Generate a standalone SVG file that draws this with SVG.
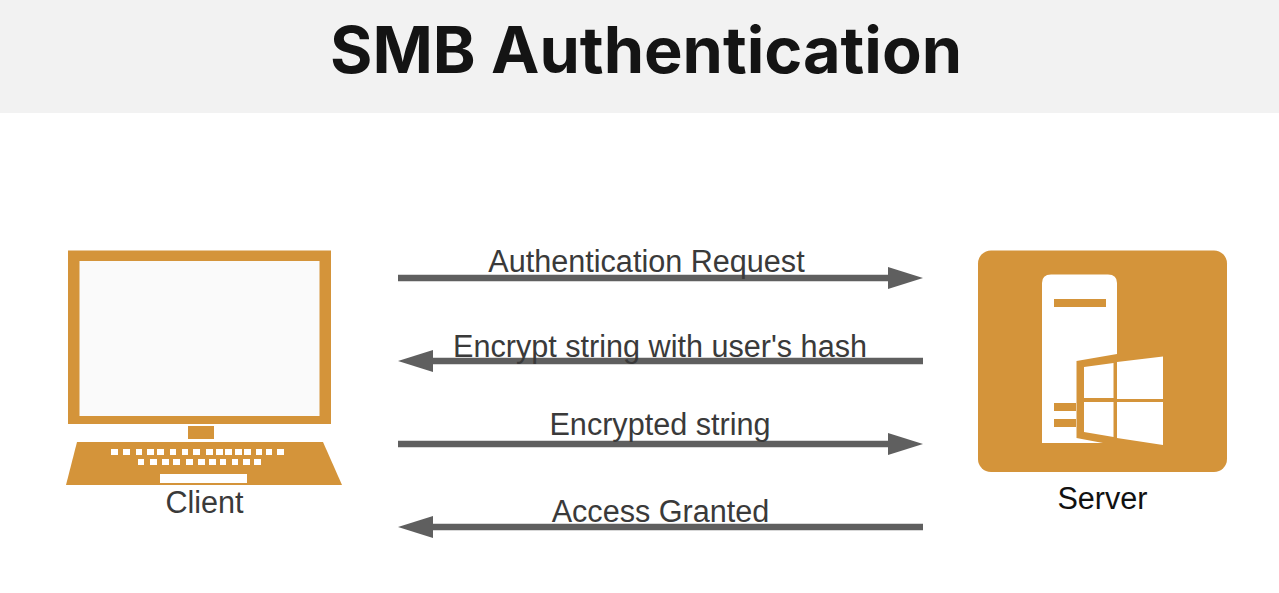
<svg xmlns="http://www.w3.org/2000/svg" width="1279" height="593" viewBox="0 0 1279 593">
<style>
.lbl{font-family:"Liberation Sans",Arial,sans-serif;font-size:30.6px;fill:#3a3a3a;text-anchor:middle}
.conn{stroke:#5f5f5f;stroke-width:6.5;fill:none}
.head{fill:#5f5f5f}
.o{fill:#d4943a}
.w{fill:#fff}
</style>
<rect width="1279" height="593" fill="#fff"/>
<g id="header">
<rect width="1279" height="113" fill="#f2f2f2"/>
<text x="646" y="72.500" font-family="Inter,'Open Sans',sans-serif" font-weight="700" font-size="64" fill="#141414" text-anchor="middle" textLength="632" lengthAdjust="spacingAndGlyphs">SMB Authentication</text>
</g>
<g id="connectors">
<line class="conn" x1="398" y1="278" x2="892" y2="278"/><polygon class="head" points="888,267 923,278 888,289"/>
<line class="conn" x1="923" y1="361" x2="428" y2="361"/><polygon class="head" points="433,350 398,361 433,372"/>
<line class="conn" x1="398" y1="444" x2="892" y2="444"/><polygon class="head" points="888,433 923,444 888,455"/>
<line class="conn" x1="923" y1="527" x2="428" y2="527"/><polygon class="head" points="433,516 398,527 433,538"/>
</g>
<g id="label-request"><text class="lbl" x="646.500" y="271.500">Authentication Request</text></g>
<g id="label-encrypt"><text class="lbl" x="660" y="356.500">Encrypt string with user's hash</text></g>
<g id="label-encrypted"><text class="lbl" x="660" y="434.500">Encrypted string</text></g>
<g id="label-granted"><text class="lbl" x="660.500" y="522">Access Granted</text></g>
<g id="client">
<rect x="68" y="250.500" width="263" height="173.500" class="o"/>
<rect x="79.500" y="261" width="240" height="155" fill="#fafafa"/>
<rect x="188" y="426" width="26" height="13" class="o"/>
<polygon class="o" points="77,442 323,442 342,485 66,485"/>
<g class="w">
<rect x="111" y="449" width="7" height="6"/><rect x="123" y="449" width="7" height="6"/><rect x="136" y="449" width="6" height="6"/><rect x="147" y="449" width="7" height="6"/><rect x="157" y="449" width="7" height="6"/><rect x="170" y="449" width="6" height="6"/><rect x="182" y="449" width="6" height="6"/><rect x="193" y="449" width="7" height="6"/><rect x="206" y="449" width="7" height="6"/><rect x="216" y="449" width="7" height="6"/><rect x="225" y="449" width="7" height="6"/><rect x="235" y="449" width="7" height="6"/><rect x="244" y="449" width="7" height="6"/><rect x="256" y="449" width="6" height="6"/><rect x="266" y="449" width="6" height="6"/><rect x="277" y="449" width="7" height="6"/>
<rect x="138" y="459" width="6" height="6"/><rect x="150" y="459" width="7" height="6"/><rect x="162" y="459" width="7" height="6"/><rect x="173" y="459" width="7" height="6"/><rect x="186" y="459" width="7" height="6"/><rect x="198" y="459" width="7" height="6"/><rect x="209" y="459" width="7" height="6"/><rect x="220" y="459" width="6" height="6"/><rect x="232" y="459" width="6" height="6"/><rect x="243" y="459" width="7" height="6"/><rect x="254" y="459" width="7" height="6"/>
<rect x="160" y="474" width="87" height="9"/>
</g>
<text class="lbl" x="204.500" y="512.500">Client</text>
</g>
<g id="server">
<rect x="978" y="250.500" width="249" height="221.500" rx="13" class="o"/>
<path class="w" d="M1042,443 V283 Q1042,274.500 1051,274.500 H1108 Q1117,274.500 1117,283 V354 L1076.500,361 V438 L1103,443 Z"/>
<rect x="1054" y="299" width="52" height="8" class="o"/>
<rect x="1054" y="403" width="22" height="8" class="o"/>
<rect x="1054" y="419" width="22" height="8" class="o"/>
<polygon class="w" points="1084,367 1113.500,363 1113.500,398 1084,398"/>
<polygon class="w" points="1117,362 1163,356.500 1163,399 1117,399"/>
<polygon class="w" points="1084,402 1113.500,402 1113.500,437 1084,432"/>
<polygon class="w" points="1117,402 1163,402 1163,445 1117,438"/>
<text class="lbl" x="1102.500" y="508.500" style="fill:#111">Server</text>
</g>
</svg>
